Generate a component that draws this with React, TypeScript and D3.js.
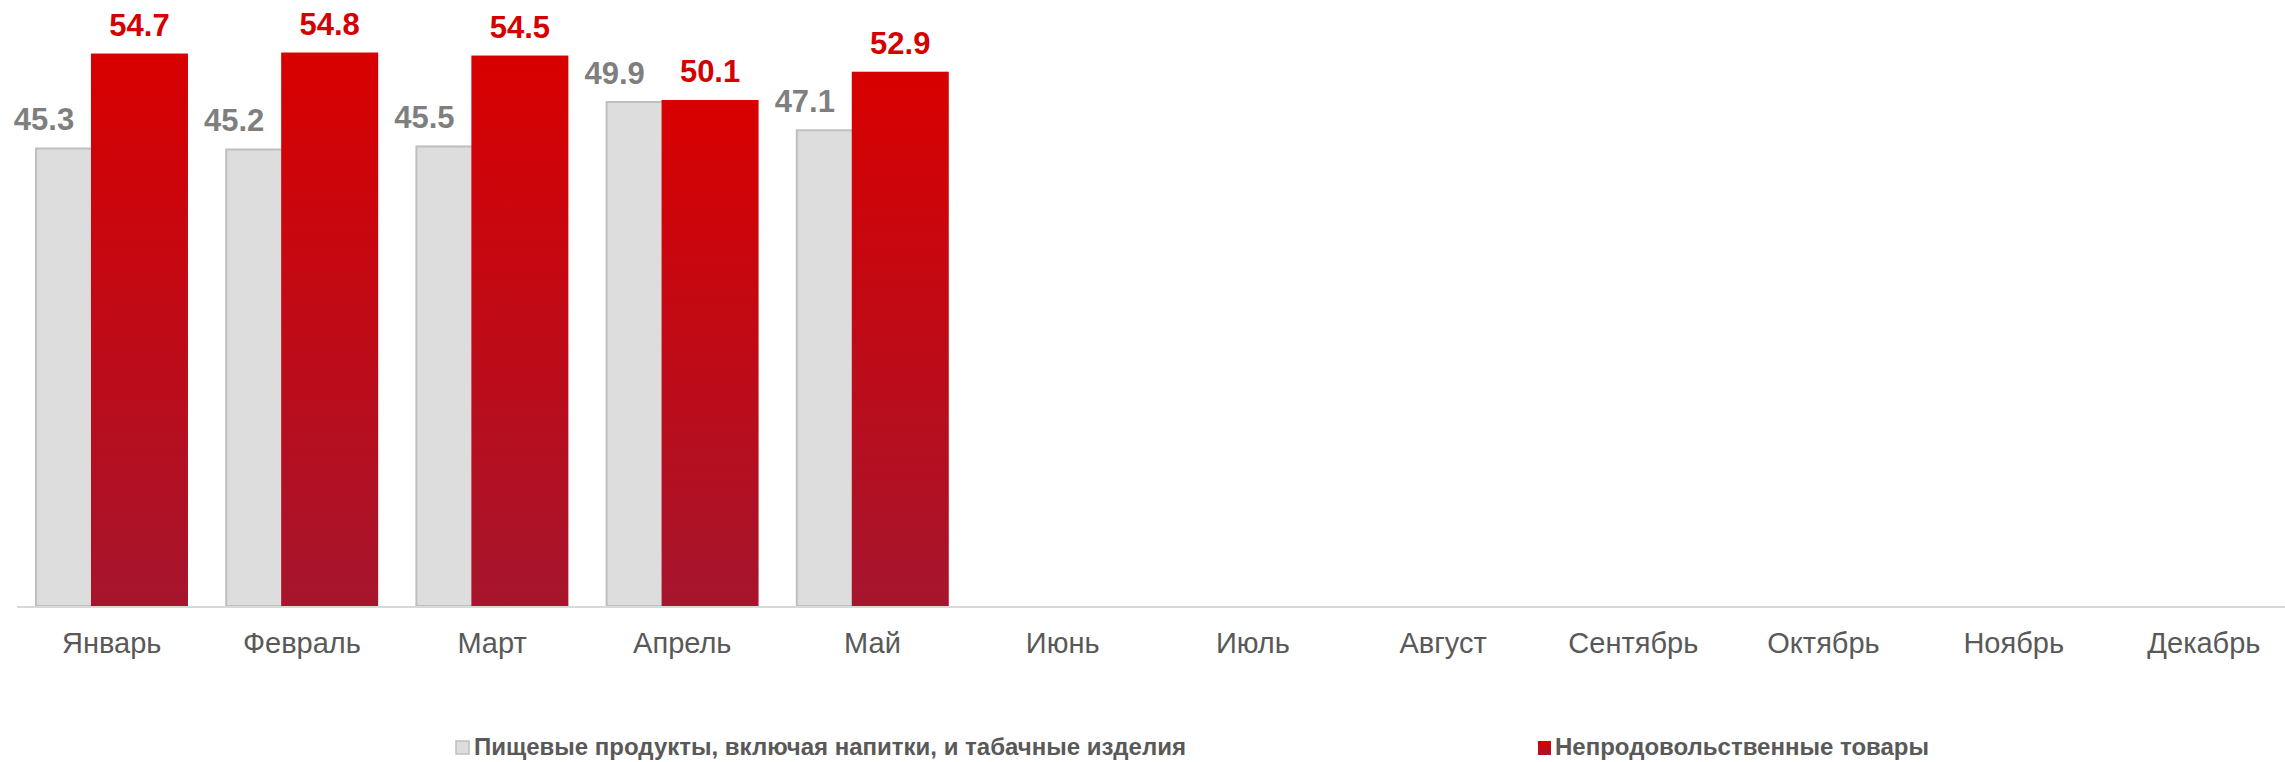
import React from "react";
import * as d3 from "d3";

const months = ["Январь", "Февраль", "Март", "Апрель", "Май", "Июнь", "Июль", "Август", "Сентябрь", "Октябрь", "Ноябрь", "Декабрь"];
const foodValues: (number | null)[] = [45.3, 45.2, 45.5, 49.9, 47.1, null, null, null, null, null, null, null];
const nonFoodValues: (number | null)[] = [54.7, 54.8, 54.5, 50.1, 52.9, null, null, null, null, null, null, null];
const seriesNames = ["Пищевые продукты, включая напитки, и табачные изделия", "Непродовольственные товары"];
const yDomain = [0, 60];

const W = 2285;
const H = 762;
const FONT = "'Liberation Sans', Arial, Helvetica, sans-serif";

export default function App() {
  const x = d3.scaleBand<string>().domain(months).range([16.6, 2299]).paddingInner(0).paddingOuter(0);
  const y = d3.scaleLinear().domain(yDomain).range([606, 0]);
  const bw = x.bandwidth();
  const barW = bw * 0.51;
  const grayOff = bw * 0.102;
  const redOff = bw * 0.391;

  return (
    <svg width={W} height={H} style={{ position: "absolute", left: 0, top: 0, background: "#fff" }}>
      <defs>
        <linearGradient id="redGrad" x1="0" y1="0" x2="0" y2="1">
          <stop offset="0" stopColor="#d80000" />
          <stop offset="1" stopColor="#a6152d" />
        </linearGradient>
      </defs>
      {months.map((m, i) => {
        const v = foodValues[i];
        if (v == null) return null;
        const x0 = (x(m) as number) + grayOff;
        return (
          <rect key={"g" + m} x={x0} y={y(v)} width={barW} height={y(0) - y(v)} fill="#dddddd" stroke="#bfbfbf" strokeWidth={2} />
        );
      })}
      {months.map((m, i) => {
        const v = nonFoodValues[i];
        if (v == null) return null;
        const x0 = (x(m) as number) + redOff;
        const top = y(v);
        return <rect key={"r" + m} x={x0} y={top} width={barW} height={y(0) - top} fill="url(#redGrad)" />;
      })}
      <line x1={17} x2={W} y1={y(0) + 1} y2={y(0) + 1} stroke="#d9d9d9" strokeWidth={2} />
      {months.map((m, i) => {
        const v = foodValues[i];
        if (v == null) return null;
        const cx = (x(m) as number) + grayOff + 8;
        return (
          <text key={"gl" + m} x={cx} y={y(v) - 18} textAnchor="middle" fontFamily={FONT} fontWeight="bold" fontSize={31} fill="#7f7f7f">
            {v.toFixed(1)}
          </text>
        );
      })}
      {months.map((m, i) => {
        const v = nonFoodValues[i];
        if (v == null) return null;
        const cx = (x(m) as number) + redOff + barW / 2;
        return (
          <text key={"rl" + m} x={cx} y={y(v) - 18} textAnchor="middle" fontFamily={FONT} fontWeight="bold" fontSize={31} fill="#d50000">
            {v.toFixed(1)}
          </text>
        );
      })}
      {months.map((m) => (
        <text key={"m" + m} x={(x(m) as number) + bw / 2} y={653} textAnchor="middle" fontFamily={FONT} fontSize={29} fill="#595959">
          {m}
        </text>
      ))}
      <g>
        <rect x={456} y={741} width={13} height={13} fill="#dddddd" stroke="#bfbfbf" strokeWidth={1.5} />
        <text x={474} y={755} fontFamily={FONT} fontWeight="bold" fontSize={24} fill="#595959">{seriesNames[0]}</text>
        <rect x={1538} y={741} width={13} height={14} fill="url(#redGrad)" />
        <text x={1555} y={755} fontFamily={FONT} fontWeight="bold" fontSize={24} fill="#595959">{seriesNames[1]}</text>
      </g>
    </svg>
  );
}
